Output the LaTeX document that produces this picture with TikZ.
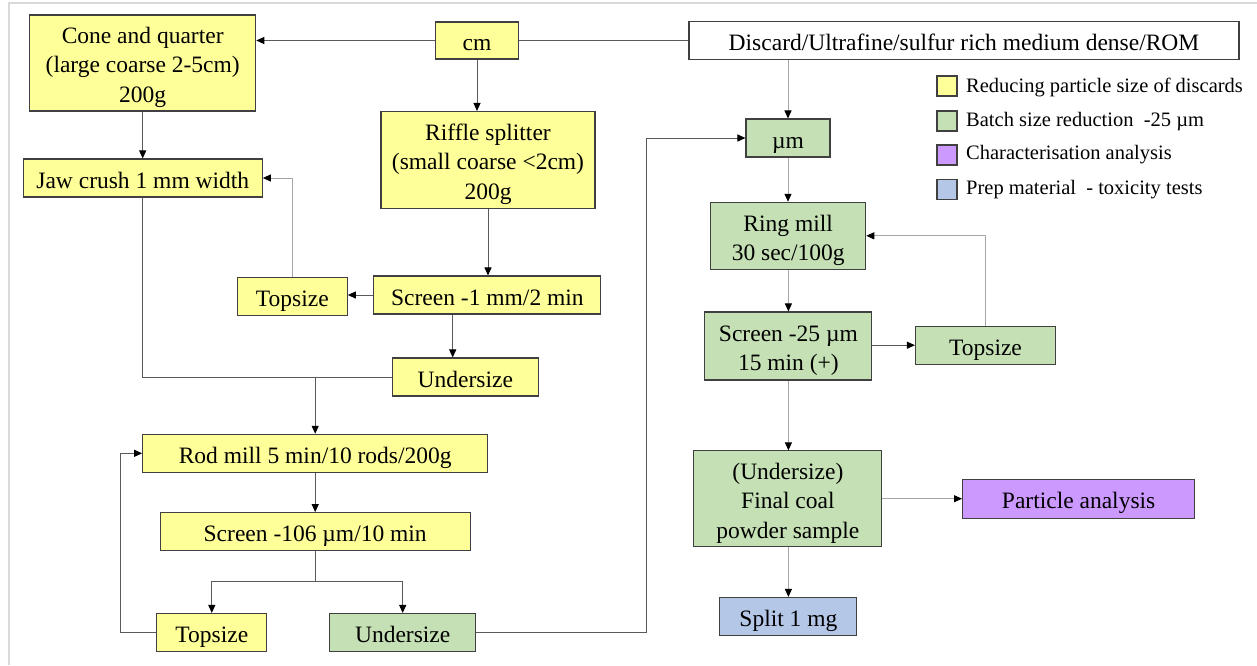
\documentclass[tikz,border=0pt]{standalone}
\usepackage{fontspec}
\setmainfont{Liberation Serif}
\usetikzlibrary{arrows.meta}
\definecolor{boxyellow}{HTML}{FFFF99}
\definecolor{boxgreen}{HTML}{C5E0B4}
\definecolor{boxpurple}{HTML}{CC99FF}
\definecolor{boxblue}{HTML}{B4C7E7}
\definecolor{frameline}{HTML}{D9D9D9}
% invisible rules that set the first-line height and last-line depth of box text
\newcommand\boxtopstrut{\rule{0pt}{25pt}}
\newcommand\boxbotstrut{\rule[-5pt]{0pt}{5pt}}
\begin{document}
\begin{tikzpicture}[x=1pt,y=-1pt,
  box/.style={draw=black!75,line width=1.1pt,inner sep=0pt,align=center,
    font=\fontsize{23.5}{29.5}\selectfont},
  ybox/.style={box,fill=boxyellow},
  gbox/.style={box,fill=boxgreen},
  pbox/.style={box,fill=boxpurple},
  bbox/.style={box,fill=boxblue},
  wbox/.style={box,fill=white},
  link/.style={line width=1pt,draw=black!65},
  light/.style={line width=1pt,draw=black!35},
  arr/.style={-{Triangle[length=8pt,width=7pt,black]}},
  legsq/.style={draw=black!75,line width=1.1pt,minimum width=20,minimum height=20,inner sep=0pt},
  legtext/.style={font=\fontsize{20.5}{24}\selectfont,anchor=west,inner sep=0pt}
]
\useasboundingbox (0,0) rectangle (1257,665);
\fill[white] (0,0) rectangle (1257,665);
\draw[frameline,line width=2pt] (9,665) -- (9,3) -- (1257,3);

% ---- left branch: coarse size reduction
\node[ybox,minimum width=226,minimum height=96] (cone) at (142.7,63)
  {\boxtopstrut Cone and quarter\\(large coarse 2-5cm)\\200g\boxbotstrut};
\node[ybox,minimum width=83,minimum height=37] (cm) at (477,40.5) {\boxtopstrut cm\boxbotstrut};
\node[wbox,minimum width=550,minimum height=38] (disc) at (964,40.5)
  {\boxtopstrut Discard/Ultrafine/sulfur rich medium dense/ROM\boxbotstrut};
\node[ybox,minimum width=214,minimum height=97] (riffle) at (488,160)
  {\boxtopstrut Riffle splitter\\(small coarse <2cm)\\200g\boxbotstrut};
\node[ybox,minimum width=239,minimum height=38] (jaw) at (142.8,178) {\boxtopstrut Jaw crush 1 mm width\boxbotstrut};
\node[ybox,minimum width=110,minimum height=38] (top1) at (292.3,296.3) {\boxtopstrut Topsize\boxbotstrut};
\node[ybox,minimum width=227,minimum height=38] (scr1) at (487.4,295) {\boxtopstrut Screen -1 mm/2 min\boxbotstrut};
\node[ybox,minimum width=146,minimum height=38] (und1) at (465.3,377) {\boxtopstrut Undersize\boxbotstrut};
\node[ybox,minimum width=345,minimum height=38] (rod) at (315.2,453.3) {\boxtopstrut Rod mill 5 min/10 rods/200g\boxbotstrut};
\node[ybox,minimum width=310,minimum height=38] (scr106) at (315.2,531.7) {\boxtopstrut Screen -106 µm/10 min\boxbotstrut};
\node[ybox,minimum width=110,minimum height=38] (top2) at (211.8,632.5) {\boxtopstrut Topsize\boxbotstrut};
\node[gbox,minimum width=146,minimum height=38] (und2) at (402.7,632.5) {\boxtopstrut Undersize\boxbotstrut};

% ---- right branch: batch reduction to -25 µm
\node[gbox,minimum width=84,minimum height=38] (um) at (788,138) {\boxtopstrut µm\boxbotstrut};
\node[gbox,minimum width=155,minimum height=67] (ring) at (788.2,235.8)
  {\boxtopstrut Ring mill\\30 sec/100g\boxbotstrut};
\node[gbox,minimum width=167,minimum height=68] (scr25) at (788.4,346)
  {\boxtopstrut Screen -25 µm\\15 min (+)\boxbotstrut};
\node[gbox,minimum width=188,minimum height=96] (final) at (787.9,498.9)
  {\boxtopstrut (Undersize)\\Final coal\\powder sample\boxbotstrut};
\node[gbox,minimum width=140,minimum height=38] (top3) at (985.5,345.2) {\boxtopstrut Topsize\boxbotstrut};
\node[pbox,minimum width=232,minimum height=39] (part) at (1078.6,498.7) {\boxtopstrut Particle analysis\boxbotstrut};
\node[bbox,minimum width=137,minimum height=38] (split) at (788.4,616.5) {\boxtopstrut Split 1 mg\boxbotstrut};

% ---- legend
\node[legsq,fill=boxyellow] (k1) at (947,86) {};
\node[legsq,fill=boxgreen] (k2) at (947,121) {};
\node[legsq,fill=boxpurple] (k3) at (947,155) {};
\node[legsq,fill=boxblue] (k4) at (947,189.5) {};
\node[legtext] (t1) at (966,87) {Reducing particle size of discards};
\node[legtext] (t2) at (966,122) {Batch size reduction~ -25 µm};
\node[legtext] (t3) at (966,155) {Characterisation analysis};
\node[legtext] (t4) at (966,189.5) {Prep material~ - toxicity tests};

% ---- connectors, left branch
\draw[link,arr] (cm.west) -- (cm.west -| cone.east);
\draw[link] (cm.east) -- (cm.east -| disc.west);
\draw[link,arr] (cm.south) -- (cm.south |- riffle.north);
\draw[link,arr] (cone.south) -- (cone.south |- jaw.north);
\draw[link,arr] (riffle.south) -- (riffle.south |- scr1.north);
\draw[link,arr] (scr1.west) -- (scr1.west -| top1.east);
\draw[light,arr] (top1.north) |- (jaw.east);
\draw[link,arr] ([xshift=-12.6pt]und1.north |- scr1.south) -- ([xshift=-12.6pt]und1.north);
\draw[link] (jaw.south) |- (und1.west);
\coordinate (j1) at (rod.north |- und1.west);
\draw[link,arr] (j1) -- (rod.north);
\draw[link,arr] (rod.south) -- (scr106.north);
\coordinate (j2) at ([yshift=-30.5pt]scr106.south);
\draw[link] (scr106.south) -- (j2);
\draw[link,arr] (j2) -| (top2.north);
\draw[link,arr] (j2) -| (und2.north);
\coordinate (c1) at (120,632.5);
\draw[link,arr] (top2.west) -- (c1) |- (rod.west);
\coordinate (c2) at (646.5,632.5);
\draw[link,arr] (und2.east) -- (c2) |- (um.west);

% ---- connectors, right branch
\draw[light,arr] (disc.south -| um.north) -- (um.north);
\draw[light,arr] (um.south) -- (um.south |- ring.north);
\draw[light,arr] (ring.south -| scr25.north) -- (scr25.north);
\draw[link,arr] (scr25.east |- top3.west) -- (top3.west);
\draw[light,arr] (top3.north) |- (ring.east);
\draw[light,arr] (scr25.south) -- (scr25.south |- final.north);
\draw[light,arr] (final.east |- part.west) -- (part.west);
\draw[light,arr] (final.south -| split.north) -- (split.north);
\end{tikzpicture}
\end{document}
